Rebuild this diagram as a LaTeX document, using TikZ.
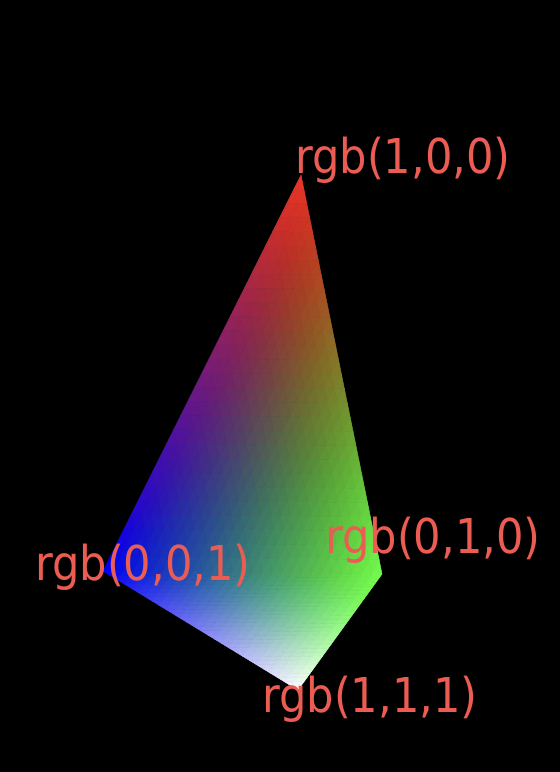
\documentclass[tikz,border=0pt]{standalone}
\usepackage{xcolor}
\usepackage{fontspec}
\setmainfont{DejaVu Sans}[FakeStretch=0.9]
\usepackage{tikz}
\usetikzlibrary{positioning}

\definecolor{labelred}{RGB}{235,92,82}

% one small flat piece of a smooth colour triangle
\newcommand{\gpiece}[4]{%
  \fill[#4] (barycentric cs:#1) -- (barycentric cs:#2) -- (barycentric cs:#3) -- cycle;}
% set colour gc from plain rgb values, shifted as the screen shows them
\newcommand{\screencolor}[3]{%
  \pgfmathsetmacro\lr{pow(max(#1,0.01),2.2)}%
  \pgfmathsetmacro\lg{pow(max(#2,0.01),2.2)}%
  \pgfmathsetmacro\lb{pow(max(#3,0.01),2.2)}%
  \pgfmathsetmacro\sr{min(1,pow(0.8225*\lr+0.1774*\lg,1/2.2))}%
  \pgfmathsetmacro\sg{min(1,pow(0.0332*\lr+0.9669*\lg,1/2.2))}%
  \pgfmathsetmacro\sb{min(1,pow(0.0171*\lr+0.0724*\lg+0.9108*\lb,1/2.2))}%
  \definecolor{gc}{rgb}{\sr,\sg,\sb}}

\begin{document}
\begin{tikzpicture}[x=1pt,y=-1pt]
  \tikzset{vlabel/.style={anchor=base west,inner sep=0pt,text=labelred,font=\fontsize{48}{50}\selectfont},
           piece/.style={fill=gc,draw=gc,line width=0.5pt,line join=round}}
  \fill[black] (0,0) rectangle (560,772);
  \useasboundingbox (0,0) rectangle (560,772);

  \coordinate (red) at (301,175);
  \coordinate (green) at (382,574);
  \coordinate (white) at (298,690);
  \coordinate (blue) at (103,571);

  % upper half: red, green, blue
  \foreach \i in {0,...,27}{
    \pgfmathtruncatemacro\jmax{27-\i}
    \foreach \j in {0,...,\jmax}{
      \pgfmathsetmacro\pb{\i/28}\pgfmathsetmacro\pc{\j/28}
      \pgfmathsetmacro\pbb{(\i+1)/28}\pgfmathsetmacro\pcc{(\j+1)/28}
      \pgfmathsetmacro\wb{(\i+1/3)/28}\pgfmathsetmacro\wc{(\j+1/3)/28}
      \pgfmathsetmacro\wa{1-\wb-\wc}
      \screencolor{\wa}{\wb}{\wc}
      \gpiece{red=1-\pb-\pc,green=\pb,blue=\pc}{red=1-\pbb-\pc,green=\pbb,blue=\pc}{red=1-\pb-\pcc,green=\pb,blue=\pcc}{piece}
      \ifnum\j<\jmax
        \pgfmathsetmacro\wb{(\i+2/3)/28}\pgfmathsetmacro\wc{(\j+2/3)/28}
        \pgfmathsetmacro\wa{1-\wb-\wc}
        \screencolor{\wa}{\wb}{\wc}
        \gpiece{red=1-\pbb-\pc,green=\pbb,blue=\pc}{red=1-\pb-\pcc,green=\pb,blue=\pcc}{red=1-\pbb-\pcc,green=\pbb,blue=\pcc}{piece}
      \fi
    }
  }

  % lower half: white, green, blue
  \foreach \i in {0,...,27}{
    \pgfmathtruncatemacro\jmax{27-\i}
    \foreach \j in {0,...,\jmax}{
      \pgfmathsetmacro\pb{\i/28}\pgfmathsetmacro\pc{\j/28}
      \pgfmathsetmacro\pbb{(\i+1)/28}\pgfmathsetmacro\pcc{(\j+1)/28}
      \pgfmathsetmacro\wb{(\i+1/3)/28}\pgfmathsetmacro\wc{(\j+1/3)/28}
      \pgfmathsetmacro\wa{1-\wb-\wc}
      \screencolor{\wa}{\wa+\wb}{\wa+\wc}
      \gpiece{white=1-\pb-\pc,green=\pb,blue=\pc}{white=1-\pbb-\pc,green=\pbb,blue=\pc}{white=1-\pb-\pcc,green=\pb,blue=\pcc}{piece}
      \ifnum\j<\jmax
        \pgfmathsetmacro\wb{(\i+2/3)/28}\pgfmathsetmacro\wc{(\j+2/3)/28}
        \pgfmathsetmacro\wa{1-\wb-\wc}
        \screencolor{\wa}{\wa+\wb}{\wa+\wc}
        \gpiece{white=1-\pbb-\pc,green=\pbb,blue=\pc}{white=1-\pb-\pcc,green=\pb,blue=\pcc}{white=1-\pbb-\pcc,green=\pbb,blue=\pcc}{piece}
      \fi
    }
  }

  \node[vlabel] (lred) at (295,173) {rgb(1,0,0)};
  \node[vlabel] (lgreen) at (325,553) {rgb(0,1,0)};
  \node[vlabel] (lblue) at (35,580) {rgb(0,0,1)};
  \node[vlabel] (lwhite) at (262,712) {rgb(1,1,1)};
\end{tikzpicture}
\end{document}
